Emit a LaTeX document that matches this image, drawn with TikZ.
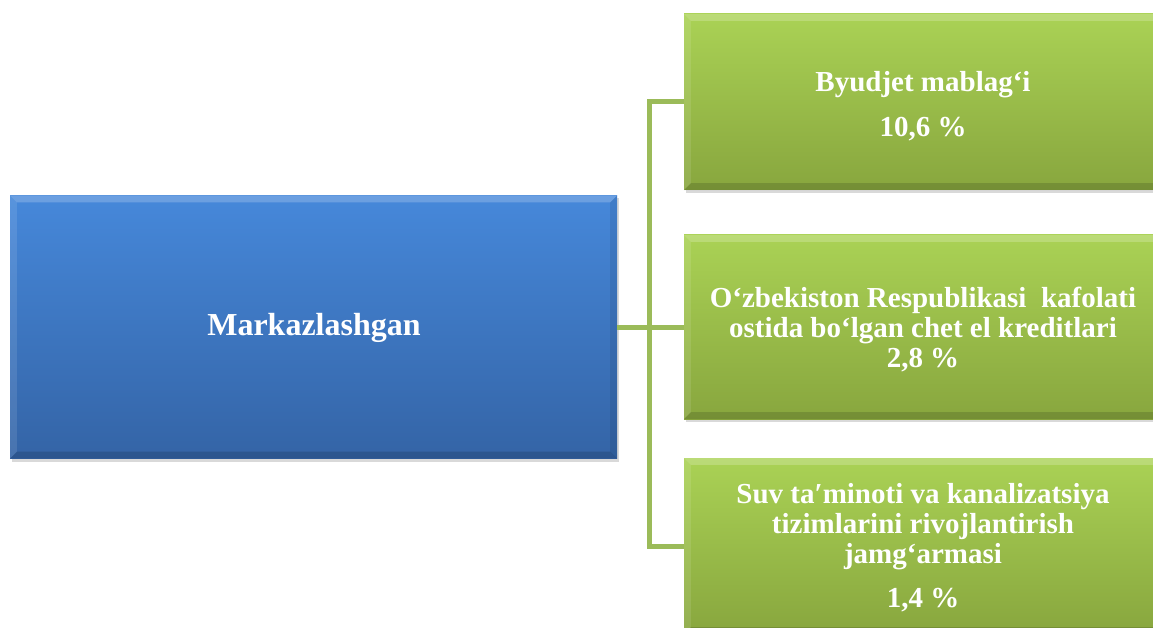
\documentclass[tikz,border=0pt]{standalone}
\usepackage{fontspec}
\setmainfont{Liberation Serif}
\usetikzlibrary{calc,shadows}
\definecolor{gtop}{HTML}{AAD255}
\definecolor{gbot}{HTML}{88A63E}
\definecolor{btop}{HTML}{4688DA}
\definecolor{bbot}{HTML}{3464A6}
\definecolor{conncol}{HTML}{9BBB59}
\newcommand\mybevel[1]{%
  \fill[white,opacity=0.2] (#1.north west) -- (#1.north east) -- ($(#1.north east)+(-7,7)$) -- ($(#1.north west)+(7,7)$) -- cycle;
  \fill[white,opacity=0.1] (#1.north west) -- ($(#1.north west)+(7,7)$) -- ($(#1.south west)+(7,-7)$) -- (#1.south west) -- cycle;
  \fill[black,opacity=0.14] (#1.south west) -- ($(#1.south west)+(7,-7)$) -- ($(#1.south east)+(-7,-7)$) -- (#1.south east) -- cycle;
  \fill[black,opacity=0.08] (#1.north east) -- (#1.south east) -- ($(#1.south east)+(-7,-7)$) -- ($(#1.north east)+(-7,7)$) -- cycle;
}
\begin{document}
\begin{tikzpicture}[x=1pt,y=-1pt,
  greenbox/.style={rectangle,top color=gtop,bottom color=gbot,draw=none,
    minimum width=478pt,inner sep=0pt,
    drop shadow={shadow xshift=2pt,shadow yshift=-3pt,opacity=0.3}},
  bluebox/.style={rectangle,top color=btop,bottom color=bbot,draw=none,
    minimum width=607pt,minimum height=263pt,inner sep=0pt,
    drop shadow={shadow xshift=2pt,shadow yshift=-3pt,opacity=0.3}},
  gtext/.style={text=white,align=center,inner sep=0pt,font=\fontsize{29}{30}\selectfont\bfseries},
  conn/.style={draw=conncol,line width=5pt}]
\useasboundingbox (0,0) rectangle (1153,628);
\clip (0,0) rectangle (1153,628);
\coordinate (jx) at (649,327);
\node[bluebox] (b) at (313.5,327) {};
\node[greenbox,minimum height=176pt] (g1) at (923,102) {};
\node[greenbox,minimum height=184pt] (g2) at (923,327) {};
\node[greenbox,minimum height=176pt] (g3) at (923,546) {};
\mybevel{b}
\mybevel{g1}
\mybevel{g2}
\mybevel{g3}
\draw[conn] (b.east) -- (g2.west);
\draw[conn] (g1.west) -| (jx) |- (g3.west);
\node[text=white,font=\fontsize{32}{36}\selectfont\bfseries] (t0) at (314,328) {Markazlashgan};
\node[gtext] (t1a) at (923,85) {Byudjet mablag‘i};
\node[gtext] (t1b) at (923,129) {10,6 \%};
\node[gtext] (t2) at (923,330) {O‘zbekiston Respublikasi\ \ kafolati\\ostida bo‘lgan chet el kreditlari\\2,8 \%};
\node[gtext] (t3) at (923,527) {Suv ta′minoti va kanalizatsiya\\tizimlarini rivojlantirish\\jamg‘armasi};
\node[gtext] (t3b) at (923,600) {1,4 \%};
\end{tikzpicture}
\end{document}
